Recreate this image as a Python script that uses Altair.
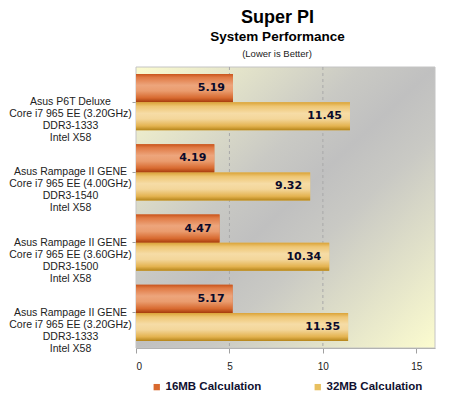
import altair as alt
import pandas as pd

systems = [
    "Asus P6T Deluxe|Core i7 965 EE (3.20GHz)|DDR3-1333|Intel X58",
    "Asus Rampage II GENE|Core i7 965 EE (4.00GHz)|DDR3-1540|Intel X58",
    "Asus Rampage II GENE|Core i7 965 EE (3.60GHz)|DDR3-1500|Intel X58",
    "Asus Rampage II GENE|Core i7 965 EE (3.20GHz)|DDR3-1333|Intel X58",
]
series = ["16MB Calculation", "32MB Calculation"]
calc16 = [5.19, 4.19, 4.47, 5.17]
calc32 = [11.45, 9.32, 10.34, 11.35]
x_ticks = [0, 5, 10, 15]
grid_at = [5, 10]

rows = []
for s, a, b in zip(systems, calc16, calc32):
    rows.append({"system": s, "series": series[0], "value": a})
    rows.append({"system": s, "series": series[1], "value": b})
df = pd.DataFrame(rows)

grad16 = {
    "gradient": "linear", "x1": 0, "y1": 0, "x2": 0, "y2": 1,
    "stops": [
        {"offset": 0, "color": "#c9541c"},
        {"offset": 0.12, "color": "#e07a44"},
        {"offset": 0.4, "color": "#eda57c"},
        {"offset": 0.6, "color": "#ea9c6e"},
        {"offset": 0.85, "color": "#d86a30"},
        {"offset": 1, "color": "#a63c0c"},
    ],
}
grad32 = {
    "gradient": "linear", "x1": 0, "y1": 0, "x2": 0, "y2": 1,
    "stops": [
        {"offset": 0, "color": "#daa236"},
        {"offset": 0.15, "color": "#eec674"},
        {"offset": 0.4, "color": "#f6dca6"},
        {"offset": 0.6, "color": "#f3d69a"},
        {"offset": 0.85, "color": "#e4b350"},
        {"offset": 1, "color": "#b5851a"},
    ],
}
view_grad = {
    "gradient": "linear", "x1": 0, "y1": 0, "x2": 1, "y2": 1,
    "stops": [
        {"offset": 0, "color": "#fbfbcf"},
        {"offset": 0.38, "color": "#c9c9c4"},
        {"offset": 0.5, "color": "#c0c0c0"},
        {"offset": 0.62, "color": "#c9c9c4"},
        {"offset": 1, "color": "#fcfccf"},
    ],
}

y_enc = alt.Y(
    "system:N", sort=systems,
    scale=alt.Scale(paddingInner=0.2, paddingOuter=0.1),
    axis=alt.Axis(
        title=None, labelExpr="split(datum.label, '|')", labelAlign="center",
        labelBaseline="middle", labelPadding=62, tickSize=4, labelLineHeight=12,
        labelFontSize=10.5, labelFont="Liberation Sans", labelColor="#222222",
        domainColor="#a0a0a0", tickColor="#a0a0a0", labelOverlap=False, labelLimit=300,
    ),
)
yoff_enc = alt.YOffset("series:N", scale=alt.Scale(domain=series, paddingInner=0, paddingOuter=0))
x_enc = alt.X(
    "value:Q", scale=alt.Scale(domain=[0, 15]),
    axis=alt.Axis(
        values=x_ticks, title=None, grid=False,
        labelFontSize=10, labelFont="Liberation Sans", labelColor="#222222",
        labelPadding=8, tickSize=5, domainColor="#a0a0a0", tickColor="#a0a0a0",
    ),
)

bg = alt.Chart(pd.DataFrame({"k": [0]})).mark_rect(fill=view_grad, stroke="#c4c4c4", strokeWidth=1).encode(
    x=alt.value(0), x2=alt.value("width"), y=alt.value(0), y2=alt.value("height"))
grid = alt.Chart(pd.DataFrame({"value": grid_at})).mark_rule(
    color="#a8a8a8", strokeDash=[3, 3], strokeWidth=1).encode(x=alt.X("value:Q"))

base = alt.Chart(df)
legend_bars = base.mark_bar().encode(
    y=y_enc, yOffset=yoff_enc, x=x_enc,
    color=alt.Color(
        "series:N", scale=alt.Scale(domain=series, range=["#d9692e", "#e8c060"]),
        legend=alt.Legend(
            title=None, orient="none", legendX=15, legendY=314, direction="horizontal",
            symbolType="square", symbolSize=40, labelFont="Liberation Sans",
            labelFontWeight="bold", labelFontSize=11.5, labelColor="#101030",
            columnPadding=50, labelOffset=3, symbolStrokeWidth=0,
        ),
    ),
)
bars16 = base.transform_filter(alt.datum.series == series[0]).mark_bar(fill=grad16).encode(
    y=y_enc, yOffset=yoff_enc, x=x_enc)
bars32 = base.transform_filter(alt.datum.series == series[1]).mark_bar(fill=grad32).encode(
    y=y_enc, yOffset=yoff_enc, x=x_enc)
labels = base.mark_text(
    align="right", baseline="middle", dx=-8, font="DejaVu Sans", fontWeight="bold",
    fontSize=11, color="#0a0a2a",
).encode(y=y_enc, yOffset=yoff_enc, x=x_enc, text=alt.Text("value:Q", format=".2f"))

note = alt.Chart(pd.DataFrame({"t": ["(Lower is Better)"]})).mark_text(
    font="Liberation Sans", fontSize=9.5, color="#222222", baseline="middle",
).encode(text="t:N", x=alt.value(141), y=alt.value(-13))

chart = alt.layer(bg, grid, legend_bars, bars16, bars32, labels, note).properties(
    width=299, height=281,
    padding={"left": 0, "top": 0, "right": 5, "bottom": 0},
    background="white",
    title=alt.TitleParams(
        "Super PI", subtitle="System Performance", font="Liberation Sans", fontSize=18,
        fontWeight="bold", color="black", subtitleFont="Liberation Sans",
        subtitleFontWeight="bold", subtitleFontSize=13.5, subtitleColor="black",
        anchor="middle", frame="group", dx=-8, offset=6, subtitlePadding=3,
    ),
).configure_view(stroke=None)

chart.save("out.html", embed_options={"renderer": "svg", "actions": False})
